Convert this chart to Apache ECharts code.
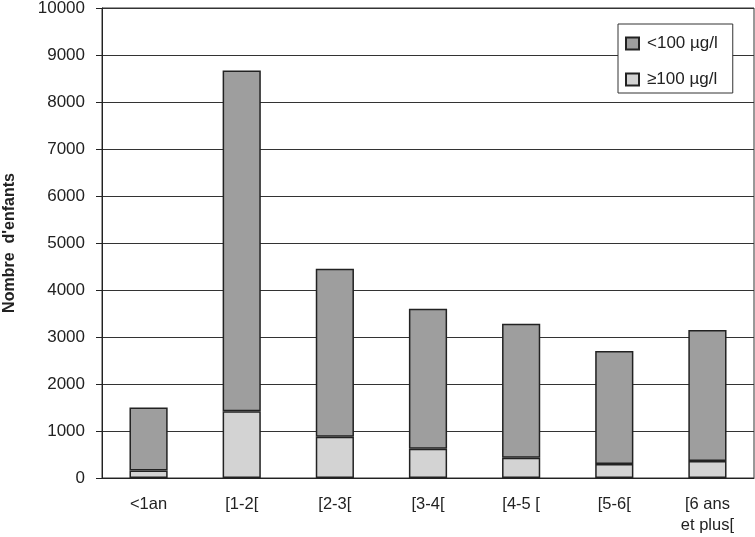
<!DOCTYPE html>
<html><head><meta charset="utf-8">
<script src="https://cdn.jsdelivr.net/npm/echarts@6/dist/echarts.min.js"></script>
<style>html,body{margin:0;padding:0;background:#fff}#c{width:755px;height:537px}</style>
</head><body><div id="c"></div>
<script>
var categories = ['<1an', '[1-2[', '[2-3[', '[3-4[', '[4-5 [', '[5-6[', '[6 ans\net plus['];
var totals = [1500, 8670, 4450, 3600, 3280, 2700, 3150];
var high = [160, 1420, 880, 620, 430, 300, 360];
var low = totals.map(function(t, i){ return t - high[i]; });
var yTicks = [0, 10000, 1000];

var chart = echarts.init(document.getElementById('c'));
var font = 'Liberation Sans, Arial, sans-serif';
chart.setOption({
  animation: false,
  textStyle: {fontFamily: font},
  grid: {left: 102, right: 1, top: 8, bottom: 59, show: true, borderColor: '#333', borderWidth: 1,
         containLabel: false, outerBoundsMode: 'none'},
  legend: {
    orient: 'vertical', left: 618, top: 24,
    padding: [11, 15, 5, 7], itemGap: 19,
    borderColor: '#333', borderWidth: 1, backgroundColor: '#fff',
    itemWidth: 13, itemHeight: 12, icon: 'rect',
    textStyle: {fontFamily: font, fontSize: 17, color: '#222', padding: [0, 0, 0, 3]},
    data: ['<100 µg/l', '≥100 µg/l']
  },
  xAxis: {
    type: 'category', data: categories,
    axisLine: {lineStyle: {color: '#222'}},
    axisTick: {length: 6, lineStyle: {color: '#222'}},
    axisLabel: {fontSize: 16.5, color: '#222', margin: 16, lineHeight: 21, fontFamily: font}
  },
  yAxis: {
    type: 'value', min: yTicks[0], max: yTicks[1], interval: yTicks[2],
    name: "Nombre  d'enfants", nameLocation: 'middle', nameGap: 84,
    nameTextStyle: {fontSize: 16, fontWeight: 'bold', color: '#222', fontFamily: font},
    axisLine: {show: true, lineStyle: {color: '#222'}},
    axisTick: {show: true, length: 6, lineStyle: {color: '#222'}},
    axisLabel: {fontSize: 17, color: '#222', margin: 17, fontFamily: font, formatter: function(v){ return String(v); }},
    splitLine: {lineStyle: {color: '#333', width: 1}}
  },
  series: [
    {name: '≥100 µg/l', type: 'bar', stack: 't', data: high, barWidth: '41%',
     itemStyle: {color: '#d3d3d3', borderColor: '#222', borderWidth: 1.5}},
    {name: '<100 µg/l', type: 'bar', stack: 't', data: low, barWidth: '41%',
     itemStyle: {color: '#9e9e9e', borderColor: '#222', borderWidth: 1.5}}
  ]
});
</script></body></html>
